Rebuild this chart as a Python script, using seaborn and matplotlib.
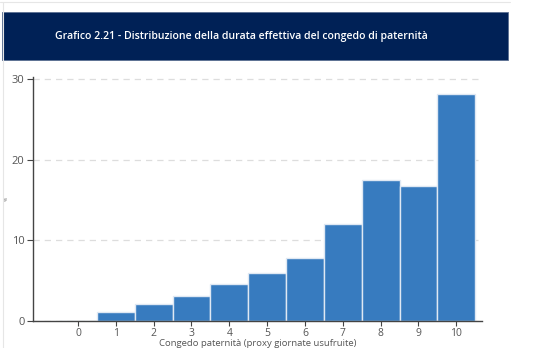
import matplotlib
matplotlib.use("Agg")
import matplotlib.pyplot as plt
import seaborn as sns
import pandas as pd
from matplotlib.patches import Rectangle
from matplotlib.lines import Line2D

days = [0, 1, 2, 3, 4, 5, 6, 7, 8, 9, 10]
pct = [0.03, 1.1, 2.1, 3.1, 4.6, 6.0, 7.8, 12.1, 17.5, 16.8, 28.2]
title = "Grafico 2.21 - Distribuzione della durata effettiva del congedo di paternità"
xlabel = "Congedo paternità (proxy giornate usufruite)"
ylabel = "%"
yticks = [0, 10, 20, 30]

sns.set_style("white")
plt.rcParams['font.family'] = ['Open Sans', 'DejaVu Sans']

df = pd.DataFrame({"giorni": days, "pct": pct})

fig = plt.figure(figsize=(5.6, 3.48), dpi=100)
ax = fig.add_axes([33/560, 1-321/348, (482-33)/560, (321-77)/348])

sns.barplot(data=df, x="giorni", y="pct", native_scale=True, width=1.0,
            color="#377bbf", saturation=1, edgecolor="#dfe8f3", linewidth=1.0, ax=ax)

ax.set_xlim(-1.19, 10.68)
ax.set_ylim(0, 30.3)
ax.set_xticks(days)
ax.set_xticklabels([str(d) for d in days])
ax.set_yticks(yticks)
ax.set_yticklabels([str(t) for t in yticks])
ax.yaxis.grid(True, linestyle=(0, (5, 4)), color="#dddddd", linewidth=0.9)
ax.set_axisbelow(True)
for s in ["top", "right"]:
    ax.spines[s].set_visible(False)
for s in ["left", "bottom"]:
    ax.spines[s].set_color("#444444")
    ax.spines[s].set_linewidth(1.0)
ax.tick_params(axis="both", which="both", direction="out", length=4, width=0.8,
               color="#444444", labelsize=8, labelcolor="#555555", pad=2,
               bottom=True, left=True)
ax.tick_params(axis="x", labelsize=7.5, pad=1.5, length=3.5)
ax.set_xlabel(xlabel, fontsize=6.8, color="#555555", va="center")
ax.xaxis.set_label_coords(0.5, -(343.5-321)/244)
ax.set_ylabel(ylabel, fontsize=3.5, color="#777777", va="center")
ax.yaxis.set_label_coords(-(33-6)/449, 0.5)

# header band
fig.add_artist(Rectangle((2/560, 1-60/348), (508-2)/560, (60-12)/348,
                         transform=fig.transFigure, facecolor="#002156",
                         edgecolor="#5a6f92", linewidth=0.6))
fig.text(241/560, 1-37/348, title, color="white", fontsize=7.6,
         fontweight="semibold", ha="center", va="center")

# thin page frame lines
fig.add_artist(Line2D([0, 510/560], [1-2/348, 1-2/348], transform=fig.transFigure,
                      color="#e6e6e6", linewidth=0.8))
fig.add_artist(Line2D([2.5/560, 2.5/560], [0, 1-2/348], transform=fig.transFigure,
                      color="#e6e6e6", linewidth=0.8))

fig.savefig("out.png", dpi=100)
